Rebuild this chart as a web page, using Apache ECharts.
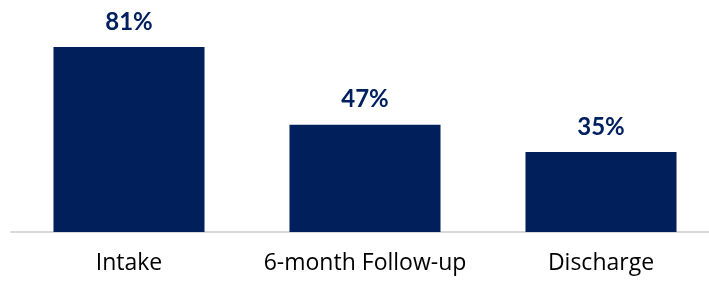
<!DOCTYPE html>
<html><head><meta charset="utf-8">
<script src="https://cdn.jsdelivr.net/npm/echarts@6/dist/echarts.min.js"></script>
<style>html,body{margin:0;padding:0;background:#fff}#c{width:709px;height:282px}</style>
</head><body><div id="c"></div>
<script>
const categories = ["Intake", "6-month Follow-up", "Discharge"];
const values = [81, 47, 35];
const chart = echarts.init(document.getElementById('c'));
chart.setOption({
  animation: false,
  grid: { left: 11, width: 708, top: 47, bottom: 50, outerBoundsMode: 'none', containLabel: false },
  xAxis: {
    type: 'category', data: categories,
    axisLine: { lineStyle: { color: '#d9d9d9', width: 2 } },
    axisTick: { show: false },
    axisLabel: { color: '#000', fontFamily: 'Open Sans', fontSize: 23, margin: 20, interval: 0, hideOverlap: false }
  },
  yAxis: { type: 'value', min: 0, max: 81, show: false, splitLine: { show: false } },
  series: [{
    type: 'bar', data: values, barWidth: '64%',
    itemStyle: { color: '#001F5B' },
    label: { show: true, position: 'top', distance: 13, formatter: '{c}%',
      color: '#002060', fontFamily: 'Lato', fontWeight: 'bold', fontSize: 24 }
  }]
});
</script></body></html>
